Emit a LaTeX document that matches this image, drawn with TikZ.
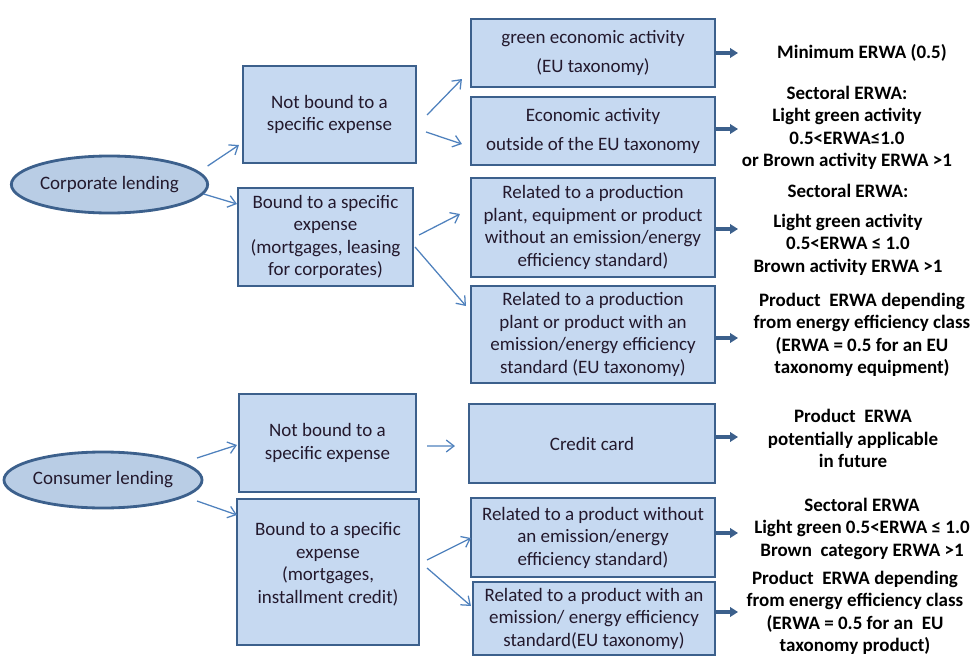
\documentclass[tikz,border=0pt]{standalone}
\usepackage{fontspec}
\setmainfont{Carlito}
\usepackage{tikz}
\usetikzlibrary{calc,arrows.meta,shapes.geometric}

\definecolor{boxfill}{RGB}{198,217,241}
\definecolor{ovalfill}{RGB}{185,205,229}
\definecolor{boxline}{RGB}{60,96,140}
\definecolor{thinarrow}{RGB}{79,129,189}
\definecolor{textdark}{RGB}{35,25,45}

\tikzset{
    box/.style={draw=boxline, fill=boxfill, line width=2pt, inner sep=0pt, outer sep=0pt,
        align=center, text=textdark, font=\fontsize{13.5}{16}\selectfont},
    oval/.style={ellipse, draw=boxline, fill=ovalfill, line width=2pt, inner sep=0pt,
        outer sep=0pt, text=textdark, font=\fontsize{13.5}{16}\selectfont},
    result/.style={align=center, inner sep=0pt, font=\fontsize{13.5}{16}\selectfont\bfseries},
    link/.style={draw=thinarrow, line width=0.9pt, -{Straight Barb[length=5.5pt,width=8.5pt]}},
    outcome/.style={draw=boxline, line width=2.8pt, -{Triangle[length=5.7pt,width=6.8pt]}}
}

\begin{document}
\begin{tikzpicture}[x=0.025cm, y=-0.025cm]
            \useasboundingbox (0,0) rectangle (976,658);

            % corporate lending
            \node[oval, minimum width=4.875cm, minimum height=1.425cm] (corp) at (109.5,184.5) {Corporate lending};
            \node[box, minimum width=4.325cm, minimum height=2.425cm] (cnb) at (329.5,114.5) {Not bound to a\\specific expense};
            \node[box, minimum width=4.375cm, minimum height=2.45cm] (cb) at (325.5,237) {Bound to a specific\\expense\\(mortgages, leasing\\for corporates)};

            \node[box, minimum width=6.1cm, minimum height=1.7cm] (green) at (593,53) {green economic activity\\[4pt](EU taxonomy)};
            \node[box, minimum width=6.1cm, minimum height=1.7cm] (econ) at (593,131) {Economic activity\\[4pt]outside of the EU taxonomy};
            \node[box, minimum width=6.1cm, minimum height=2.475cm] (relno) at (593,227.5) {Related to a production\\plant, equipment or product\\without an emission/energy\\efficiency standard)};
            \node[box, minimum width=6.1cm, minimum height=2.425cm] (relwith) at (593,334.5) {Related to a production\\plant or product with an\\emission/energy efficiency\\standard (EU taxonomy)};

            \node[result] (r1) at (862,53) {Minimum ERWA (0.5)};
            \node[result] (r2) at (847,128) {Sectoral ERWA:\\Light green activity\\0.5<ERWA≤1.0\\or Brown activity ERWA >1};
            \node[result] (r3) at (848,230) {Sectoral ERWA:\\[5pt]Light green activity\\0.5<ERWA ≤ 1.0\\Brown activity ERWA >1};
            \node[result] (r4) at (862,335) {Product~ ERWA depending\\from energy efficiency class\\(ERWA = 0.5 for an EU\\taxonomy equipment)};

            % consumer lending
            \node[oval, minimum width=4.5cm, minimum height=1.4cm] (cons) at (103,480) {Consumer lending};
            \node[box, minimum width=4.425cm, minimum height=2.45cm] (nnb) at (327.5,443) {Not bound to a\\specific expense};
            \node[box, minimum width=4.55cm, minimum height=3.65cm] (nb) at (328,572) {Bound to a specific\\expense\\(mortgages,\\installment credit)\\[-3pt]};

            \node[box, minimum width=6.15cm, minimum height=1.975cm] (credit) at (592,443.5) {Credit card};
            \node[box, minimum width=6.1cm, minimum height=1.975cm] (prodno) at (593,537.5) {Related to a product without\\an emission/energy\\efficiency standard)};
            \node[box, minimum width=6.05cm, minimum height=1.825cm] (prodwith) at (594,618.5) {Related to a product with an\\emission/ energy efficiency\\standard(EU taxonomy)};

            \node[result] (r5) at (853,438.5) {Product~ ERWA\\potentially applicable\\in future};
            \node[result] (r6) at (862,528.5) {Sectoral ERWA\\Light green 0.5<ERWA ≤ 1.0\\Brown~ category ERWA >1};
            \node[result] (r7) at (855,613) {Product~ ERWA depending\\from energy efficiency class\\(ERWA = 0.5 for an~ EU\\taxonomy product)};

            \draw[link] ($(corp.east)+(0,-18.5)$) -- ($(cnb.west)+(-4,30.5)$);
            \draw[link] ($(corp.east)+(-4,9.5)$) -- ($(cb.west)+(-1,-33)$);
            \draw[link] ($(cnb.east)+(11,0.5)$) -- ($(green.west)+(-9,26)$);
            \draw[link] ($(cnb.east)+(10,17.5)$) -- ($(econ.west)+(-9,13)$);
            \draw[link] ($(cb.east)+(6,-2)$) -- ($(relno.west)+(-11,-13.5)$);
            \draw[link] ($(cb.east)+(2,10)$) -- ($(relwith.west)+(-5,-28.5)$);

            \draw[link] ($(cons.east)+(-5,-22)$) -- ($(nnb.west)+(-2,2)$);
            \draw[link] ($(cons.east)+(-5,21)$) -- ($(nb.west)+(0,-57)$);
            \draw[link] ($(nnb.east)+(11,3)$) -- ($(credit.west)+(-14,2.5)$);
            \draw[link] ($(nb.east)+(8,-12)$) -- ($(prodno.west)+(0,0.5)$);
            \draw[link] ($(nb.east)+(8,-4)$) -- ($(prodwith.west)+(-2,-12.5)$);

            \draw[outcome] (green.east) -- ++(23,0);
            \draw[outcome] ($(econ.east)+(0,-2)$) -- ++(23,0);
            \draw[outcome] ($(relno.east)+(0,1.5)$) -- ++(23,0);
            \draw[outcome] ($(relwith.east)+(0,3.5)$) -- ++(23,0);
            \draw[outcome] ($(credit.east)+(0,-6.5)$) -- ++(23,0);
            \draw[outcome] ($(prodno.east)+(0,-4.5)$) -- ++(23,0);
            \draw[outcome] ($(prodwith.east)+(0,-6.5)$) -- ++(23,0);
        \end{tikzpicture}
\end{document}
